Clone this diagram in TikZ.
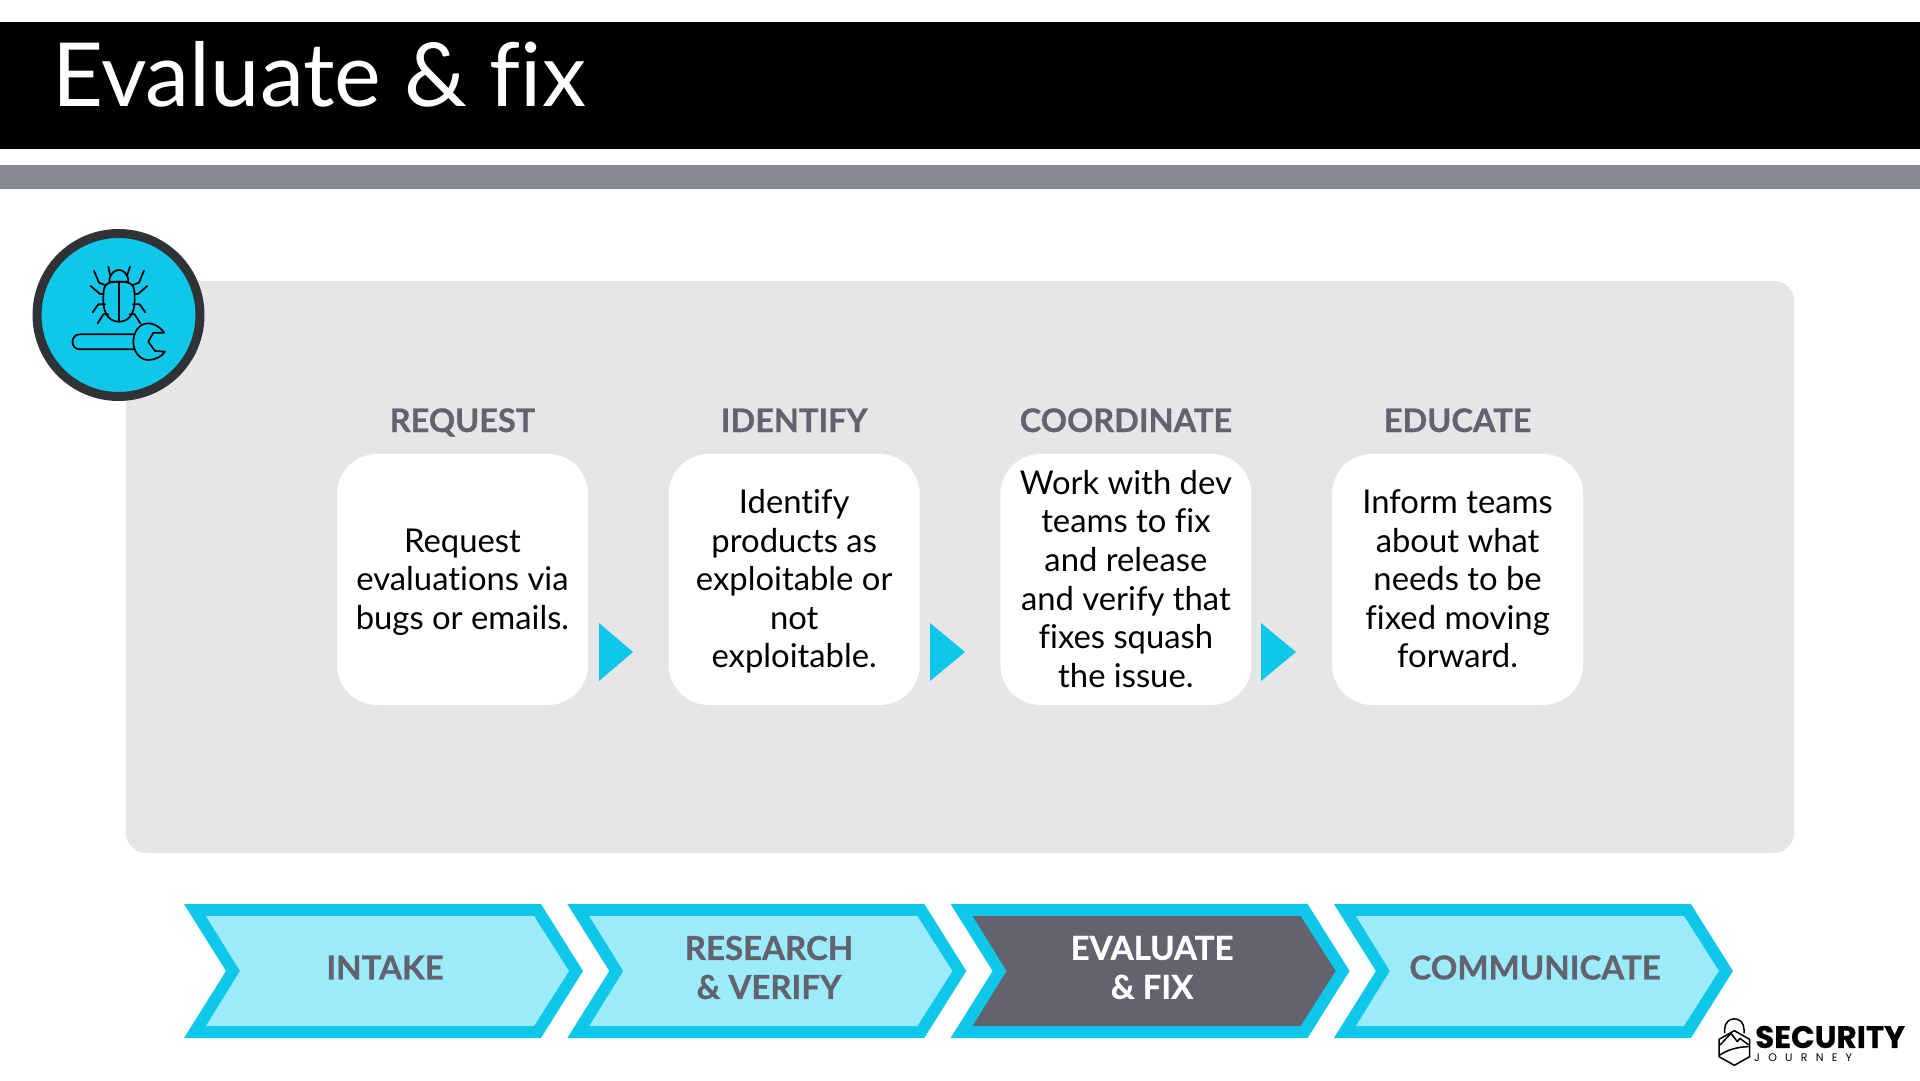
\documentclass[tikz,border=0pt]{standalone}
\usepackage{fontspec}
\setmainfont[Ligatures=NoCommon, BoldFeatures={FakeBold=0.7}]{Lato}
\newfontfamily\logofont[BoldFeatures={FakeBold=0.4}]{Poppins}
\newfontfamily\logospaced[LetterSpace=75]{Poppins}
\definecolor{skyblue}{HTML}{0FC7E9}
\definecolor{palesky}{HTML}{9CEBFA}
\definecolor{slatetext}{HTML}{63636F}
\definecolor{panelgray}{HTML}{E6E6E8}
\definecolor{bargray}{HTML}{868893}
\definecolor{ringgray}{HTML}{2F3336}
\newcommand{\topstrut}{\rule{0pt}{34pt}}
% one chevron of the bottom row, #1 = shift, #2 = inner colour
\newcommand{\chevron}[2]{
    \fill[skyblue, shift={(#1,0)}] (184,904) -- (541,904) -- (583,971) -- (541,1038) -- (184,1038) -- (226,971) -- cycle;
    \fill[#2, shift={(#1,0)}] (206,916) -- (534,916) -- (569,971) -- (534,1026) -- (206,1026) -- (240,971) -- cycle;
}
\begin{document}
\begin{tikzpicture}[x=1pt, y=-1pt, node distance=331.7pt,
    stepbox/.style = {fill=white, rounded corners=40pt, minimum width=251pt, minimum height=251pt, inner sep=0pt, align=center, font=\fontsize{32.8}{38.6}\selectfont},
    heading/.style = {node distance=159pt, text=slatetext, text height=23pt, text depth=0pt, font=\fontsize{32.5}{38}\bfseries},
    phase/.style = {text=slatetext, align=center, font=\fontsize{33}{39}\bfseries},
    bugline/.style = {line width=1.7pt, line join=round, line cap=round}]
    \useasboundingbox (0,0) rectangle (1920,1080);
    \fill[black] (0,22) rectangle (1920,149);
    \fill[bargray] (0,165) rectangle (1920,189);
    \fill[panelgray, rounded corners=20pt] (126,281) rectangle (1794,853);
    \node[text=white, anchor=west, inner sep=0pt, font=\fontsize{88.4}{100}\selectfont] (title) at (52,74) {Evaluate \& fix};

    % steps
    \node[stepbox] (request) at (462.5,579.5) {\topstrut Request\\evaluations via\\bugs or emails.\strut};
    \node[stepbox] (identify) [right of=request] {\topstrut Identify\\products as\\exploitable or\\not\\exploitable.\strut};
    \node[stepbox] (coordinate) [right of=identify] {\topstrut Work with dev\\teams to fix\\and release\\and verify that\\fixes squash\\the issue.\strut};
    \node[stepbox] (educate) [right of=coordinate] {\topstrut Inform teams\\about what\\needs to be\\fixed moving\\forward.\strut};
    \node[heading] (requesthead) [above of=request] {REQUEST};
    \node[heading] (identifyhead) [above of=identify] {IDENTIFY};
    \node[heading] (coordinatehead) [above of=coordinate] {COORDINATE};
    \node[heading] (educatehead) [above of=educate] {EDUCATE};
    \fill[skyblue] (599,623) -- (633,652) -- (599,681) -- cycle;
    \fill[skyblue] (930,623) -- (965,652) -- (930,681) -- cycle;
    \fill[skyblue] (1261,623) -- (1296,652) -- (1261,681) -- cycle;

    % badge
    \node[circle, fill=skyblue, draw=ringgray, line width=9pt, minimum size=163pt, inner sep=0pt] (badge) at (118.5,315) {};
    \begin{scope}[shift={(20,220)}, x=0.3333pt, y=-0.3333pt, bugline]
        \draw (297,185) .. controls (250,185) and (250,200) .. (250,240) .. controls (250,285) and (270,305) .. (297,305) .. controls (324,305) and (344,285) .. (344,240) .. controls (344,200) and (344,185) .. (297,185);
        \draw (297,185) -- (297,305);
        \draw (268,185) .. controls (268,160) and (285,150) .. (297,150) .. controls (309,150) and (325,160) .. (325,185) -- (268,185);
        \draw (265,140) -- (270,165);
        \draw (330,140) -- (322,165);
        \draw (222,152) -- (237,188) -- (255,195);
        \draw (372,152) -- (357,188) -- (339,195);
        \draw (212,198) -- (240,222) -- (250,222);
        \draw (382,198) -- (354,222) -- (344,222);
        \draw (218,277) -- (235,253) -- (255,253);
        \draw (376,277) -- (359,253) -- (339,253);
        \draw (233,310) -- (250,283) -- (265,283);
        \draw (361,310) -- (344,283) -- (329,283);
        % wrench
        \draw (340,343) -- (180,343) .. controls (150,343) and (150,388) .. (180,388) -- (340,388);
        \draw (433,338) .. controls (415,315) and (395,310) .. (385,310) .. controls (355,310) and (340,340) .. (340,365) .. controls (340,395) and (360,420) .. (385,420) .. controls (405,420) and (425,410) .. (435,395) -- (405,393) -- (385,365) -- (400,338) -- cycle;
    \end{scope}

    % bottom row
    \chevron{0}{palesky}
    \chevron{383.3}{palesky}
    \chevron{766.6}{slatetext}
    \chevron{1149.9}{palesky}
    \node[phase] (intake) at (385,967.5) {INTAKE};
    \node[phase] (research) at (769,967.5) {RESEARCH\\\& VERIFY};
    \node[phase, text=white] (evaluate) at (1152,967.5) {EVALUATE\\\& FIX};
    \node[phase] (communicate) at (1535,967.5) {COMMUNICATE};

    % logo
    \begin{scope}[shift={(1700,1000)}, x=0.3333pt, y=-0.3333pt, line width=1.5pt, line join=round]
        \draw (57,118) -- (103,92) -- (149,118) -- (149,170) -- (103,196) -- (57,170) -- cycle;
        \draw (74,100) -- (74,88) .. controls (74,46) and (132,46) .. (132,88) -- (132,100);
        \draw (60,135) -- (93,100) -- (112,125) -- (120,115) -- (146,135);
        \draw (60,165) .. controls (80,150) and (115,140) .. (146,140);
    \end{scope}
    \node[anchor=west, inner sep=0pt, font=\logofont\fontsize{31}{31}\bfseries] (logotop) at (1755,1037) {SECURITY};
    \node[anchor=west, inner sep=0pt, font=\logospaced\fontsize{11}{11}\selectfont] (logobottom) at (1754,1058) {JOURNEY};
\end{tikzpicture}
\end{document}
